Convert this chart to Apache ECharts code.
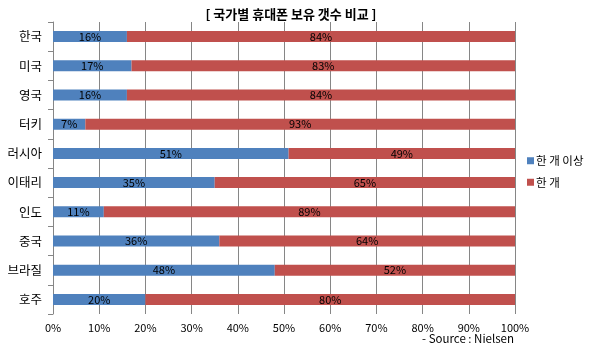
<!DOCTYPE html>
<html>
<head>
<meta charset="utf-8">
<script src="https://cdn.jsdelivr.net/npm/echarts@6/dist/echarts.min.js"></script>
<style>
  html, body { margin: 0; padding: 0; background: #fff; }
  #chart { width: 590px; height: 351px; }
</style>
</head>
<body>
<div id="chart"></div>
<script>
// 국가 목록 (위에서 아래 순서)
const countries = ['한국', '미국', '영국', '터키', '러시아', '이태리', '인도', '중국', '브라질', '호주'];
// 휴대폰 한 개 이상 보유 비율
const moreThanOne = [16, 17, 16, 7, 51, 35, 11, 36, 48, 20];
// 휴대폰 한 개 보유 비율
const onlyOne = [84, 83, 84, 93, 49, 65, 89, 64, 52, 80];

const FONT = '"Noto Sans CJK KR", "DejaVu Sans", sans-serif';

const chart = echarts.init(document.getElementById('chart'));

const label = {
    show: true,
    position: 'inside',
    formatter: '{c}%',
    color: '#000',
    fontSize: 11,
    fontFamily: FONT
};

chart.setOption({
    animation: false,
    title: {
        text: '[ 국가별 휴대폰 보유 갯수 비교 ]',
        left: 286,
        top: 3,
        textAlign: 'center',
        textStyle: { fontSize: 13, fontWeight: 'bold', color: '#000', fontFamily: FONT }
    },
    graphic: [{
        type: 'text',
        right: 76,
        top: 333,
        style: { text: '- Source : Nielsen', fontSize: 11.5, fill: '#000', fontFamily: FONT }
    }],
    legend: {
        orient: 'vertical',
        left: 522,
        top: 150,
        itemWidth: 7,
        itemHeight: 7,
        itemGap: 10,
        icon: 'rect',
        textStyle: { fontSize: 11.5, color: '#000', fontFamily: FONT, padding: [0, 0, 0, -3] },
        data: ['한 개 이상', '한 개']
    },
    grid: { left: 53, right: 75, top: 22, bottom: 37, containLabel: false },
    xAxis: {
        type: 'value',
        min: 0,
        max: 100,
        interval: 10,
        axisLine: { show: false },
        axisTick: { show: false },
        splitLine: { show: true, lineStyle: { color: '#868686', width: 1 } },
        axisLabel: { formatter: '{value}%', color: '#000', fontSize: 11, fontFamily: FONT, margin: 8 }
    },
    yAxis: {
        type: 'category',
        inverse: true,
        data: countries,
        axisLine: { show: true, lineStyle: { color: '#868686' } },
        axisTick: { show: true, length: 5, lineStyle: { color: '#868686' } },
        axisLabel: { color: '#000', fontSize: 12.5, fontFamily: FONT, margin: 11 }
    },
    series: [
        {
            name: '한 개 이상',
            type: 'bar',
            stack: 'total',
            barWidth: 11,
            itemStyle: { color: '#4F81BD' },
            label: label,
            data: moreThanOne
        },
        {
            name: '한 개',
            type: 'bar',
            stack: 'total',
            barWidth: 11,
            itemStyle: { color: '#C0504D' },
            label: label,
            data: onlyOne
        }
    ]
});
</script>
</body>
</html>
